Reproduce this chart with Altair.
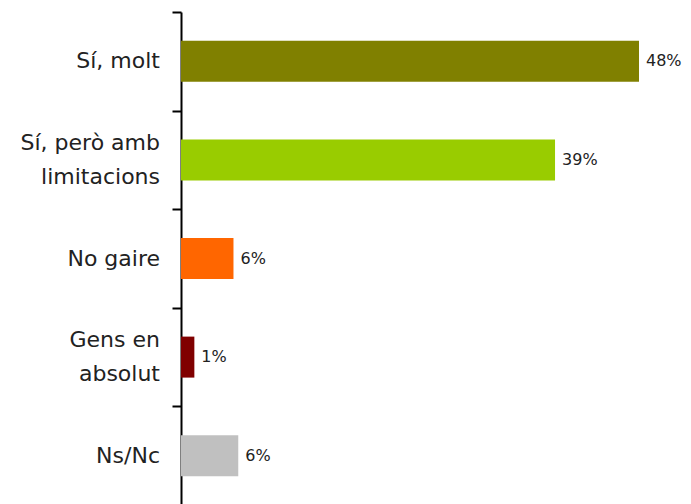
import altair as alt
import pandas as pd

categories = ["Sí, molt", "Sí, però amb|limitacions", "No gaire", "Gens en|absolut", "Ns/Nc"]
values = [48.0, 39.2, 5.5, 1.4, 6.0]
labels = ["48%", "39%", "6%", "1%", "6%"]
colors = ["#808000", "#99CC00", "#FF6600", "#800000", "#C0C0C0"]

df = pd.DataFrame({"cat": categories, "value": values, "label": labels})

FONT = "DejaVu Sans"

y = alt.Y(
    "cat:N",
    sort=categories,
    scale=alt.Scale(paddingInner=0, paddingOuter=0),
    axis=alt.Axis(
        title=None,
        labels=False,
        tickBand="extent",
        tickSize=9,
        tickWidth=2,
        tickColor="#000000",
        domainColor="#000000",
        domainWidth=2,
        grid=False,
    ),
)
x = alt.X("value:Q", scale=alt.Scale(domain=[0, 48], nice=False), axis=None)

base = alt.Chart(df)

bars = base.mark_bar(size=41).encode(
    y=y,
    x=x,
    color=alt.Color("cat:N", scale=alt.Scale(domain=categories, range=colors), legend=None),
)
values_text = base.mark_text(
    align="left", baseline="middle", dx=7, font=FONT, fontSize=16, color="#222222"
).encode(y=y, x=x, text="label:N")

cat_single = base.transform_filter("indexof(datum.cat, '|') < 0").mark_text(
    align="right", baseline="middle", font=FONT, fontSize=22, color="#222222"
).encode(y=y, x=alt.value(-21), text="cat:N")

cat_multi = base.transform_filter("indexof(datum.cat, '|') >= 0").transform_calculate(
    lines="split(datum.cat, '|')"
).mark_text(
    align="right", baseline="middle", font=FONT, fontSize=22, color="#222222",
    lineHeight=34, dy=-17,
).encode(y=y, x=alt.value(-21), text="lines:N")

chart = (
    alt.layer(bars, values_text, cat_single, cat_multi)
    .properties(
        width=458,
        height=493,
        padding={"left": 173, "top": 4, "right": 44, "bottom": 0},
        autosize=alt.AutoSizeParams(type="none"),
    )
    .configure_view(stroke=None)
)

chart.save("out.html", embed_options={"renderer": "svg", "actions": False})
